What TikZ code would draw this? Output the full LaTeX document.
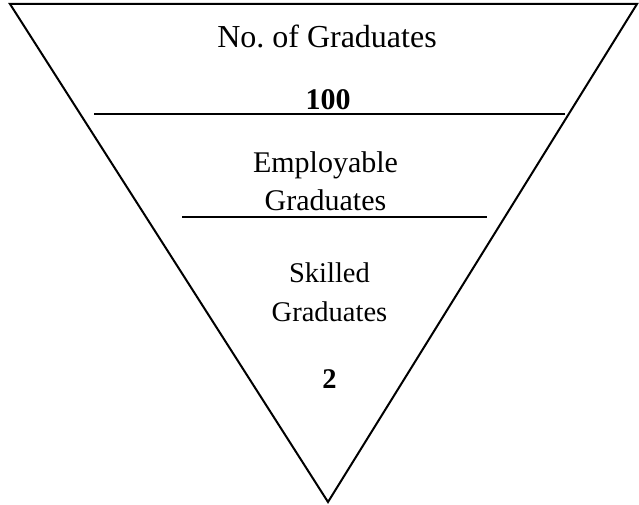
\documentclass[tikz,border=0pt]{standalone}
\usepackage{fontspec}
\setmainfont{Liberation Serif}
\begin{document}
\begin{tikzpicture}[x=1pt,y=-1pt,
  edge/.style={line width=2pt,line cap=butt,line join=miter},
  label/.style={inner sep=0pt,align=center}]
\useasboundingbox (0,0) rectangle (639,505);
% inverted funnel
\coordinate (tl) at (10,4);
\coordinate (tr) at (637,4);
\coordinate (bt) at (328,502);
\draw[edge] (tl) -- (tr) -- (bt) -- cycle;
% dividing lines
\coordinate (a1) at (94,114);
\coordinate (a2) at (565,114);
\coordinate (b1) at (182,217);
\coordinate (b2) at (487,217);
\draw[edge] (a1) -- (a2);
\draw[edge] (b1) -- (b2);
% texts
\node[label,anchor=base,font=\fontsize{32}{38}\selectfont] (title) at (327,48) {No.\ of Graduates};
\node[label,anchor=base,font=\fontsize{30}{36}\bfseries] (total) at (328,110) {100};
\node[label,font=\fontsize{30}{38}\selectfont] (emp) at (325.5,181) {Employable\\Graduates};
\node[label,font=\fontsize{28.5}{39}\selectfont] (sk) at (329.5,292) {Skilled\\Graduates};
\node[label,anchor=base,font=\fontsize{28.5}{34}\bfseries] (two) at (329.5,388) {2};
\end{tikzpicture}
\end{document}
